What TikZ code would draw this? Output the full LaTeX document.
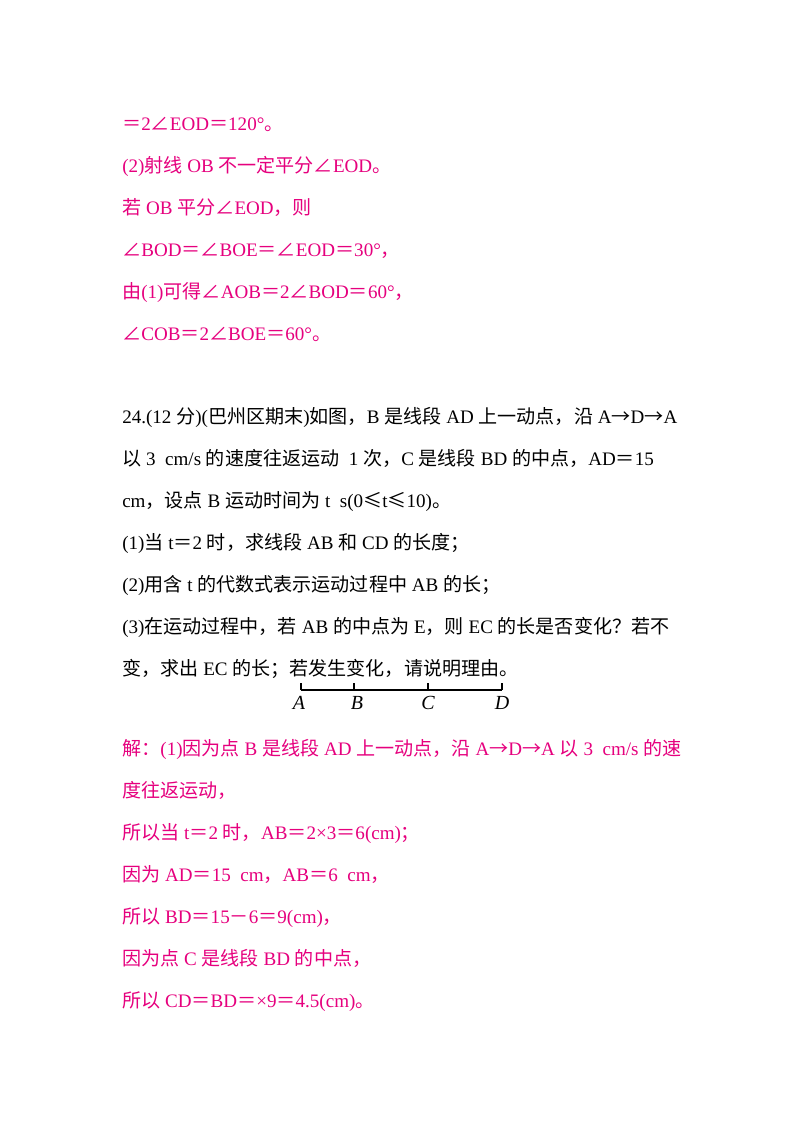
\documentclass[tikz,border=0pt]{standalone}
\usepackage{fontspec}
\setmainfont{Liberation Serif}
\newfontfamily\zhf{Noto Sans CJK SC}
\newcommand\zh[1]{{\zhf #1}}
\definecolor{pk}{RGB}{230,0,126}
\begin{document}
\begin{tikzpicture}[x=0.75pt,y=-0.75pt,
  ln/.style={anchor=base west,inner sep=0pt,font=\fontsize{14.3pt}{17pt}\selectfont},
  pl/.style={ln,text=pk},
  bl/.style={ln,text=black}]
\useasboundingbox[fill=white] (0,0) rectangle (800,1132);
\node[pl] (l1) at (122,130) {\zh{＝}2\zh{∠}EOD\zh{＝}120°\zh{。}};
\node[pl] (l2) at (122,172) {(2)\zh{射线} OB \zh{不一定平分}\zh{∠}EOD\zh{。}};
\node[pl] (l3) at (122,214) {\zh{若} OB \zh{平分}\zh{∠}EOD\zh{，则}};
\node[pl] (l4) at (122,256) {\zh{∠}BOD\zh{＝∠}BOE\zh{＝∠}EOD\zh{＝}30°\zh{，}};
\node[pl] (l5) at (122,298) {\zh{由}(1)\zh{可得∠}AOB\zh{＝}2\zh{∠}BOD\zh{＝}60°\zh{，}};
\node[pl] (l6) at (122,340) {\zh{∠}COB\zh{＝}2\zh{∠}BOE\zh{＝}60°\zh{。}};
\node[bl] (q1) at (122,423) {24.(12 \zh{分})(\zh{巴州区期末})\zh{如图，}B \zh{是线段} AD \zh{上一动点，沿} A\zh{→}D\zh{→}A};
\node[bl] (q2) at (122,465) {\zh{以} 3\ \ cm/s \zh{的速度往返运动}\ \ 1 \zh{次，}C \zh{是线段} BD \zh{的中点，}AD\zh{＝}15};
\node[bl] (q3) at (122,507) {cm\zh{，设点} B \zh{运动时间为} t\ \ s(0\zh{≤}t\zh{≤}10)\zh{。}};
\node[bl] (q4) at (122,549) {(1)\zh{当} t\zh{＝}2 \zh{时，求线段} AB \zh{和} CD \zh{的长度；}};
\node[bl] (q5) at (122,591) {(2)\zh{用含} t \zh{的代数式表示运动过程中} AB \zh{的长；}};
\node[bl] (q6) at (122,633) {(3)\zh{在运动过程中，若} AB \zh{的中点为} E\zh{，则} EC \zh{的长是否变化？若不}};
\node[bl] (q7) at (122,675) {\zh{变，求出} EC \zh{的长；若发生变化，请说明理由。}};
% figure
\coordinate (A) at (301,690); \coordinate (B) at (354,690);
\coordinate (C) at (428,690); \coordinate (D) at (502,690);
\draw[line width=1.2pt] (A) -- (D);
\foreach \p in {A,B,C,D} \draw[line width=1.2pt] (\p) -- ++(0,-7);
\foreach \p/\dx in {A/-2,B/3,C/0,D/0}
  \node[inner sep=0pt,font=\fontsize{15pt}{17pt}\selectfont\itshape] (n\p) at ([xshift=\dx*0.75pt,yshift=-10pt]\p) {\p};
\node[pl] (s1) at (122,755) {\zh{解：}(1)\zh{因为点} B \zh{是线段} AD \zh{上一动点，沿} A\zh{→}D\zh{→}A \zh{以} 3\ \ cm/s \zh{的速}};
\node[pl] (s2) at (122,797) {\zh{度往返运动，}};
\node[pl] (s3) at (122,839) {\zh{所以当} t\zh{＝}2 \zh{时，}AB\zh{＝}2\texttimes3\zh{＝}6(cm)\zh{；}};
\node[pl] (s4) at (122,881) {\zh{因为} AD\zh{＝}15\ \ cm\zh{，}AB\zh{＝}6\ \ cm\zh{，}};
\node[pl] (s5) at (122,923) {\zh{所以} BD\zh{＝}15\zh{－}6\zh{＝}9(cm)\zh{，}};
\node[pl] (s6) at (122,965) {\zh{因为点} C \zh{是线段} BD \zh{的中点，}};
\node[pl] (s7) at (122,1007) {\zh{所以} CD\zh{＝}BD\zh{＝}\texttimes9\zh{＝}4.5(cm)\zh{。}};
\end{tikzpicture}
\end{document}
